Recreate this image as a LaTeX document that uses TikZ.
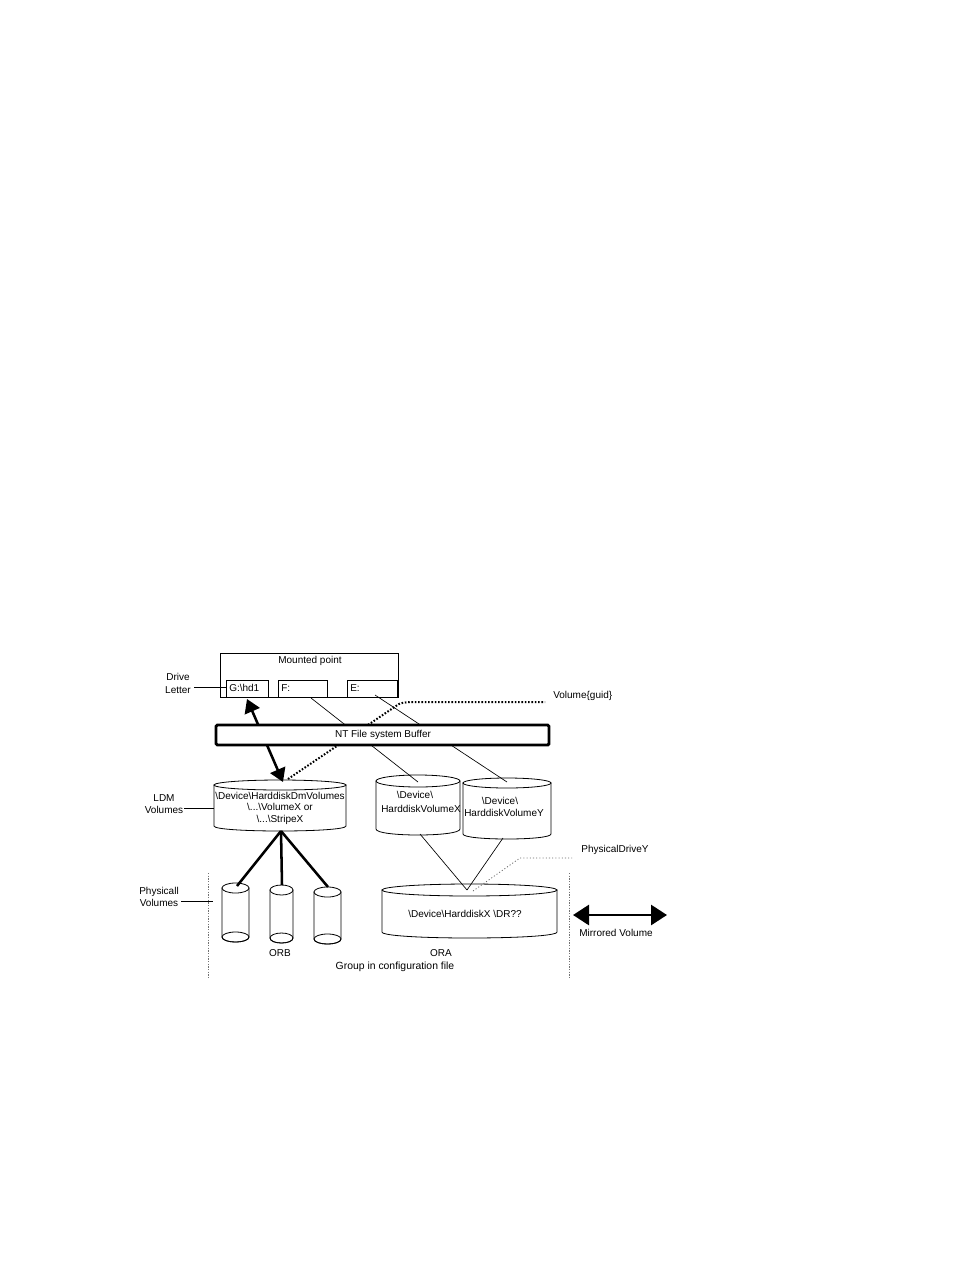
\documentclass[tikz,border=0pt]{standalone}
\usepackage{fontspec}
\setmainfont{Liberation Sans}
\usetikzlibrary{arrows.meta}
\newcommand\mycyl[5]{% cx rx ytop ybottom ry
  \draw[cylline] (#1-#2,#3) -- (#1-#2,#4) .. controls (#1-#2,#4+1.333*#5) and (#1+#2,#4+1.333*#5) .. (#1+#2,#4) -- (#1+#2,#3) -- cycle;
  \draw[cylline] (#1,#3) ellipse [x radius=#2, y radius=#5];}
\newcommand\mysmallcyl[5]{% cx rx ytop ybottom ry, with full bottom ellipse
  \mycyl{#1}{#2}{#3}{#4}{#5}
  \draw[cylline, fill=none] (#1,#4) ellipse [x radius=#2, y radius=#5];}
\begin{document}
\begin{tikzpicture}[x=0.75pt,y=-0.75pt,
  font=\fontsize{7.5}{9.5}\selectfont,
  lbl/.style={inner sep=0, align=center},
  cylline/.style={draw=black, fill=white, line width=0.6pt},
  thinbox/.style={draw, line width=0.7pt, inner sep=0, fill=white},
  thinline/.style={line width=0.5pt},
  leader/.style={line width=0.6pt},
  thickline/.style={line width=1.9pt},
  bigarrow/.style={line width=1.9pt, {Triangle[length=10pt,width=12pt]}-{Triangle[length=10pt,width=12pt]}},
  mirrorarrow/.style={line width=2.1pt, {Triangle[length=12pt,width=15pt]}-{Triangle[length=12pt,width=15pt]}},
  guiddots/.style={line width=1.5pt, dash pattern=on 1.2pt off 1.3pt},
  finedots/.style={line width=0.6pt, black!60, dash pattern=on 0.8pt off 1.6pt},
  borderdots/.style={line width=0.7pt, black!55, dash pattern=on 1pt off 1pt}]
\useasboundingbox (0,0) rectangle (954,1270);

% ---- cylinders ----
\mycyl{280}{66}{785}{826}{5}
\mycyl{418}{42}{781}{829}{6}
\mycyl{507}{44}{783}{834}{5}
\mycyl{469.5}{87.5}{890}{932}{6}
\mysmallcyl{235.5}{13.5}{888}{937}{5}
\mysmallcyl{281.5}{11.5}{890}{938}{5}
\mysmallcyl{327.5}{13.5}{892}{939}{5}

% ---- named points ----
\coordinate (ldmtop) at (288,779);
\coordinate (ldmbot) at (281,831);
\coordinate (vxtop) at (418,782);
\coordinate (vytop) at (507,782);
\coordinate (vxbot) at (420,834);
\coordinate (vybot) at (503,838);
\coordinate (orajoin) at (467,890);
\coordinate (p1top) at (237,886);
\coordinate (p2top) at (282,885);
\coordinate (p3top) at (328,887);
\coordinate (fout) at (311,698);
\coordinate (eout) at (375,695);
\coordinate (gin) at (247,699);
\coordinate (ldmin) at (283,782);
\coordinate (guidbend) at (396,706);
\coordinate (guidend) at (545,702);
\coordinate (pdjoin) at (473,891);
\coordinate (pdbend) at (520,858);
\coordinate (pdend) at (572,858);
\coordinate (lbd1) at (208,873);
\coordinate (lbd2) at (208,978);
\coordinate (rbd1) at (569,873);
\coordinate (rbd2) at (569,978);

% ---- mounted point box ----
\node[thinbox, minimum width=133.5pt, minimum height=33pt] (mount) at (309.5,675) {};
\node[thinbox, minimum width=31.5pt, minimum height=12.75pt] (gbox) at (247,688.5) {};
\node[thinbox, minimum width=36.75pt, minimum height=12.75pt] (fbox) at (302.5,688.5) {};
\node[thinbox, minimum width=37.5pt, minimum height=12.75pt] (ebox) at (372,688.5) {};
\node[lbl] (mptext) at (310,661) {Mounted point};
\node[lbl, anchor=west] (gtext) at (229,688) {G:\textbackslash hd1};
\node[lbl, anchor=west] (ftext) at (281,688) {F:};
\node[lbl, anchor=west] (etext) at (350,688) {E:};

% ---- lines passing behind the buffer ----
\draw[thinline] (fout) -- (vxtop);
\draw[thinline] (eout) -- (vytop);
\draw[guiddots] (ldmtop) -- (guidbend) .. controls (400,703) .. (410,702) -- (guidend);
\draw[bigarrow] (gin) -- (ldmin);

% ---- NT buffer ----
\node[draw, fill=white, line width=2.2pt, rounded corners=1pt, inner sep=0,
      minimum width=249.75pt, minimum height=15pt] (nt) at (382.5,735) {};
\node[lbl] (nttext) at (383,735) {NT File system Buffer};
\node[lbl, anchor=west] (guid) at (553,696) {Volume\{guid\}};

% ---- lower connectors ----
\draw[thickline] (ldmbot) -- (p1top);
\draw[thickline] (ldmbot) -- (p2top);
\draw[thickline] (ldmbot) -- (p3top);
\draw[thinline] (vxbot) -- (orajoin);
\draw[thinline] (vybot) -- (orajoin);
\draw[finedots] (pdjoin) -- (pdbend) -- (pdend);
\draw[borderdots] (lbd1) -- (lbd2);
\draw[borderdots] (rbd1) -- (rbd2);

% ---- cylinder texts ----
\node[lbl, font=\fontsize{7.5}{8.6}\selectfont] (ldmtext) at (280,808)
  {\textbackslash Device\textbackslash HarddiskDmVolumes\\\textbackslash...\textbackslash VolumeX or\\\textbackslash...\textbackslash StripeX};
\node[lbl] (vxt1) at (415,795) {\textbackslash Device\textbackslash};
\node[lbl] (vxt2) at (421,809) {HarddiskVolumeX};
\node[lbl] (vyt1) at (500,801) {\textbackslash Device\textbackslash};
\node[lbl] (vyt2) at (504,813) {HarddiskVolumeY};
\node[lbl] (oratext) at (465,914) {\textbackslash Device\textbackslash HarddiskX \textbackslash DR??};

% ---- side labels ----
\node[lbl] (drive) at (178,683.5) {Drive\\Letter};
\coordinate (driveend) at (194,687);
\coordinate (gleft) at (226,687);
\draw[leader] (driveend) -- (gleft);
\node[lbl] (ldmlbl) at (164,804) {LDM\\Volumes};
\coordinate (ldmlead) at (184,808);
\coordinate (ldmleft) at (214,808);
\draw[leader] (ldmlead) -- (ldmleft);
\node[lbl] (physlbl) at (159,897) {Physicall\\Volumes};
\coordinate (physlead) at (181,901);
\coordinate (physend) at (213,901);
\draw[leader] (physlead) -- (physend);
\node[lbl] (pdy) at (615,850) {PhysicalDriveY};
\node[lbl] (orb) at (280,953) {ORB};
\node[lbl] (ora) at (441,953) {ORA};
\node[lbl, font=\fontsize{7.8}{9}\selectfont] (group) at (395,967) {Group in configuration file};

% ---- mirrored volume ----
\coordinate (mleft) at (573,915);
\coordinate (mright) at (667,915);
\draw[mirrorarrow] (mleft) -- (mright);
\node[lbl] (mirror) at (616,933) {Mirrored Volume};
\end{tikzpicture}
\end{document}
